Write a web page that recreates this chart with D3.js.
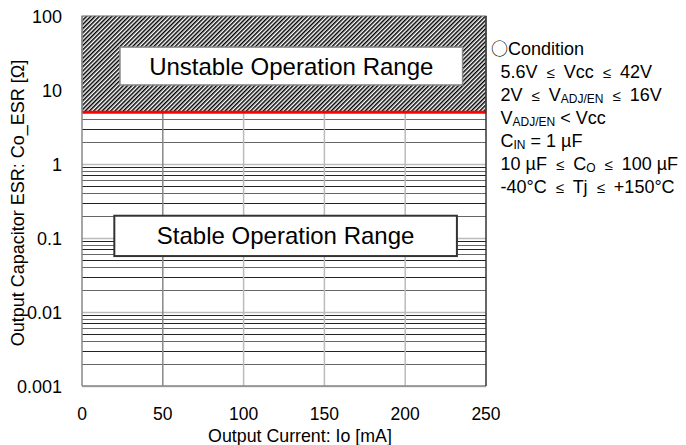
<!DOCTYPE html>
<html><head><meta charset="utf-8">
<script src="https://cdn.jsdelivr.net/npm/d3@7"></script>
<style>
body{margin:0;background:#fff;}
text{font-family:"Liberation Sans",Arial,sans-serif;fill:#000;}
</style></head>
<body><svg id="c" width="686" height="445"></svg>
<script>
// ---- data ----
const currentDomain = [0, 250];          // Output current, mA
const esrDomain = [0.001, 100];          // ESR, ohm
const xTickValues = [0, 50, 100, 150, 200, 250];
const yTickValues = [0.001, 0.01, 0.1, 1, 10, 100];
const yTickLabels = ["0.001", "0.01", "0.1", "1", "10", "100"];
const stableLimitESR = 5;                // boundary (red line)
const unstableRange = [5, 100];          // hatched region
const unstableBox = {x0: 23.5, x1: 235.5, y0: 38, y1: 11.7};  // label box (mA, ohm)
const stableBox = {x0: 20, x1: 232, y0: 0.2, y1: 0.057};
const conditionLines = [
  [{t:"○",cjk:true},{t:"Condition"}],
  [{t:"5.6V "},{t:"≤",le:true},{t:" Vcc "},{t:"≤",le:true},{t:" 42V"}],
  [{t:"2V "},{t:"≤",le:true},{t:" V"},{t:"ADJ/EN",sub:true},{t:" "},{t:"≤",le:true},{t:" 16V"}],
  [{t:"V"},{t:"ADJ/EN",sub:true},{t:" < Vcc"}],
  [{t:"C"},{t:"IN",sub:true},{t:" = 1 µF"}],
  [{t:"10 µF "},{t:"≤",le:true},{t:" C"},{t:"O",sub:true},{t:" "},{t:"≤",le:true},{t:" 100 µF"}],
  [{t:"-40°C "},{t:"≤",le:true},{t:" Tj "},{t:"≤",le:true},{t:" +150°C"}]
];

// ---- layout ----
const svg = d3.select("#c");
const L = 82, R = 486, T = 16, B = 386;
const x = d3.scaleLinear().domain(currentDomain).range([L, R]);
const y = d3.scaleLog().domain(esrDomain).range([B, T]);

const defs = svg.append("defs");
const pat = defs.append("pattern").attr("id","hatch").attr("patternUnits","userSpaceOnUse")
  .attr("width",3).attr("height",3).attr("patternTransform","rotate(45)");
pat.append("rect").attr("width",3).attr("height",3).attr("fill","#fff");
pat.append("line").attr("x1",0.75).attr("y1",0).attr("x2",0.75).attr("y2",3)
  .attr("stroke","#000").attr("stroke-width",1.5);

// minor horizontal gridlines
const minor = y.ticks().filter(v => !yTickValues.some(t => Math.abs(t - v) / t < 1e-9));
svg.append("g").selectAll("line").data(minor).join("line")
  .attr("x1",L).attr("x2",R).attr("y1",d=>Math.round(y(d))+0.5).attr("y2",d=>Math.round(y(d))+0.5)
  .attr("stroke",(d,i)=> (i%2? "#222":"#666")).attr("stroke-width",1);
// major horizontal gridlines
svg.append("g").selectAll("line").data(yTickValues).join("line")
  .attr("x1",L).attr("x2",R).attr("y1",d=>Math.round(y(d))+0.5).attr("y2",d=>Math.round(y(d))+0.5)
  .attr("stroke","#bbb").attr("stroke-width",1.5);
// vertical gridlines
svg.append("g").selectAll("line").data(xTickValues.slice(1,-1)).join("line")
  .attr("x1",d=>x(d)).attr("x2",d=>x(d)).attr("y1",T).attr("y2",B)
  .attr("stroke",(d,i)=> i===0 ? "#888" : "#bbb").attr("stroke-width",1.5);

// hatched unstable region
svg.append("rect").attr("x",x(currentDomain[0])).attr("width",x(currentDomain[1])-x(currentDomain[0]))
  .attr("y",y(unstableRange[1])).attr("height",y(unstableRange[0])-y(unstableRange[1]))
  .attr("fill","url(#hatch)").attr("stroke","#777").attr("stroke-width",1);

// red boundary
svg.append("line").attr("x1",L).attr("x2",R).attr("y1",y(stableLimitESR)).attr("y2",y(stableLimitESR))
  .attr("stroke","#ff0000").attr("stroke-width",3);

// axes frame
svg.append("line").attr("x1",L).attr("x2",L).attr("y1",T).attr("y2",B).attr("stroke","#888").attr("stroke-width",1.5);
svg.append("line").attr("x1",L).attr("x2",R).attr("y1",B).attr("y2",B).attr("stroke","#888").attr("stroke-width",1.5);
svg.append("line").attr("x1",R).attr("x2",R).attr("y1",T).attr("y2",B).attr("stroke","#333").attr("stroke-width",1.5);

// label boxes
function box(b, label, stroke, sw){
  const g = svg.append("g");
  g.append("rect").attr("x",x(b.x0)).attr("y",y(b.y0)).attr("width",x(b.x1)-x(b.x0))
    .attr("height",y(b.y1)-y(b.y0)).attr("fill","#fff").attr("stroke",stroke).attr("stroke-width",sw);
  g.append("text").attr("x",(x(b.x0)+x(b.x1))/2).attr("y",(y(b.y0)+y(b.y1))/2+8.5)
    .attr("text-anchor","middle").attr("font-size",24).text(label);
}
box(unstableBox,"Unstable Operation Range","#888",1.5);
box(stableBox,"Stable Operation Range","#333",2);

// tick labels
svg.append("g").selectAll("text").data(yTickValues).join("text")
  .attr("x",62).attr("y",d=>y(d)+6.5).attr("text-anchor","end").attr("font-size",18)
  .text((d,i)=>yTickLabels[i]);
svg.append("g").selectAll("text").data(xTickValues).join("text")
  .attr("x",d=>x(d)).attr("y",419.5).attr("text-anchor","middle").attr("font-size",17.5)
  .text(d=>d);

// axis titles
svg.append("text").attr("x",300).attr("y",442).attr("text-anchor","middle").attr("font-size",17.8)
  .text("Output Current: Io [mA]");
svg.append("text").attr("transform","translate(24,203) rotate(-90)")
  .attr("text-anchor","middle").attr("font-size",18).text("Output Capacitor ESR: Co_ESR [Ω]");

// conditions
const cg = svg.append("g");
conditionLines.forEach((parts,i)=>{
  const t = cg.append("text").attr("x", i===0 ? 491 : 500.5).attr("y", 55.3 + i*22.9).attr("font-size",18);
  let prevSub = false, prevLe = false;
  parts.forEach(p=>{
    const s = t.append("tspan").text(p.t);
    if(p.cjk) s.style("font-family","'Noto Sans CJK JP'").attr("font-size",17);
    if(p.le){ s.attr("font-size",15).attr("dx",4); }
    else if(prevLe){ s.attr("dx",4); }
    if(p.sub){ s.attr("font-size",12).attr("dy",2); }
    else if(prevSub){ s.attr("dy",-2); }
    prevSub = !!p.sub; prevLe = !!p.le;
  });
});
</script></body></html>
